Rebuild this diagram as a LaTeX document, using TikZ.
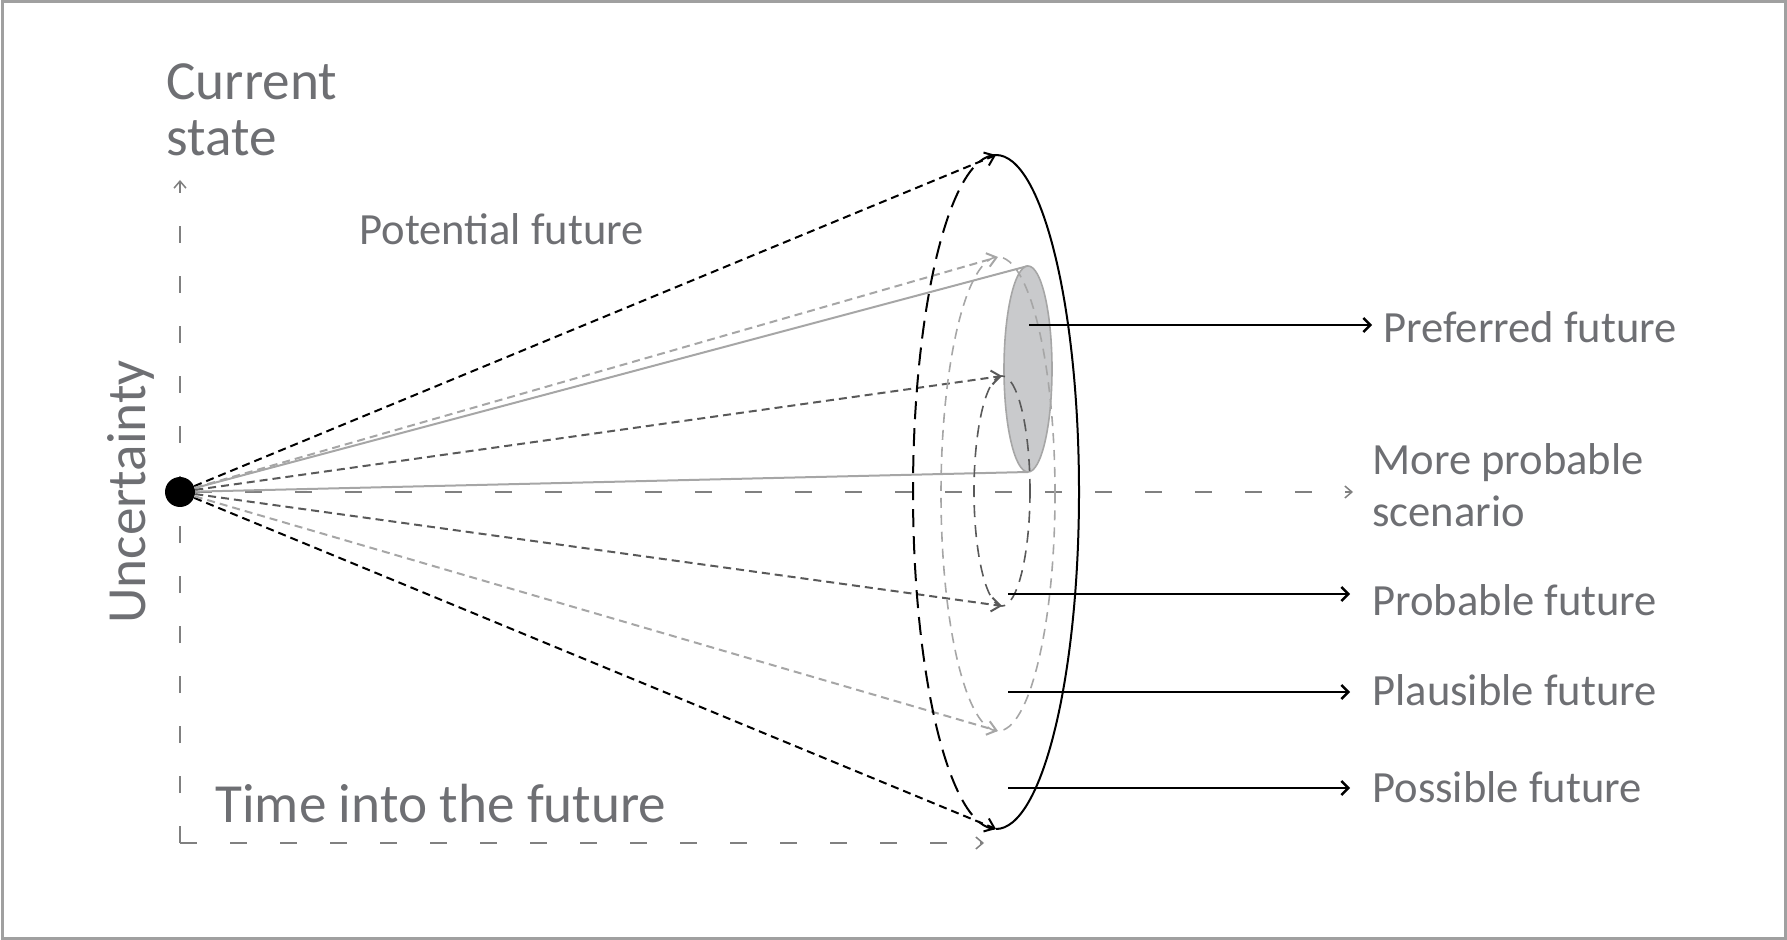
\documentclass[tikz,border=0pt]{standalone}
\usepackage{fontspec}
\setmainfont{Carlito}
\usetikzlibrary{arrows.meta}

\definecolor{txtgray}{RGB}{110,111,115}
\definecolor{axgray}{RGB}{128,128,128}
\definecolor{raygray}{RGB}{166,166,166}
\definecolor{deepgray}{RGB}{89,89,89}
\definecolor{fillgray}{RGB}{201,202,204}
\definecolor{framegray}{RGB}{160,160,160}

\begin{document}
\begin{tikzpicture}[x=0.5pt, y=-0.5pt,
  lbl/.style = {text=txtgray, inner sep=0pt, anchor=base west, align=left, font=\fontsize{22.3}{25.5}\selectfont},
  big/.style = {text=txtgray, inner sep=0pt, align=left, font=\fontsize{27.6}{28.2}\selectfont},
  ray/.style = {line width=1pt, dash pattern=on 4pt off 2.5pt, -{Straight Barb[length=4.5pt,width=7pt]}},
  axis/.style = {axgray, line width=0.75pt, dash pattern=on 8.5pt off 16.5pt, -{Straight Barb[length=3.5pt,width=6pt]}},
  pointer/.style = {line width=1.2pt, -{Straight Barb[length=3.5pt,width=7pt]}}]

\useasboundingbox (0,0) rectangle (1787,940);
\draw[framegray, line width=1.5pt] (2,2) rectangle (1785,938);

\coordinate (O) at (180,843);
\coordinate (up) at (180,180);
\coordinate (tx) at (984,843);
\coordinate (mp) at (1353,492);
\coordinate (T1) at (996,155);
\coordinate (B1) at (996,829);
\coordinate (T2) at (998,257);
\coordinate (B2) at (998,731);
\coordinate (T3) at (1002,376);
\coordinate (B3) at (1002,606);
\coordinate (T4) at (1028,266);
\coordinate (B4) at (1028,472);

\draw[axis] (O) -- (up);
\draw[axis] (O) -- (tx);

\node[circle, fill=black, inner sep=0pt, minimum size=15pt] (D) at (180,492) {};

\draw[axis] (D) -- (mp);
\draw[raygray, line width=1pt] (D) -- (T4);
\draw[raygray, line width=1pt] (D) -- (B4);
\draw[draw=raygray, fill=fillgray, line width=0.8pt] (1028,369) ellipse [x radius=12pt, y radius=51.5pt];

\draw[ray] (D) -- (T1);
\draw[ray] (D) -- (B1);
\draw[ray, raygray] (D) -- (T2);
\draw[ray, raygray] (D) -- (B2);
\draw[ray, deepgray] (D) -- (T3);
\draw[ray, deepgray] (D) -- (B3);

\draw[raygray, line width=0.8pt, dash pattern=on 5pt off 3.5pt] (998,494) ellipse [x radius=28.5pt, y radius=118.5pt];
\draw[deepgray, line width=0.8pt, dash pattern=on 6pt off 4pt] (1002,491) ellipse [x radius=14pt, y radius=57.5pt];
\draw[line width=1pt, dash pattern=on 9pt off 4.5pt] (T1) arc[start angle=90, end angle=270, x radius=41.5pt, y radius=168.5pt];
\draw[line width=1pt] (T1) arc[start angle=90, end angle=-90, x radius=41.5pt, y radius=168.5pt];

\coordinate (prefA) at (1029,325);
\coordinate (prefB) at (1372,325);
\coordinate (probA) at (1008,594);
\coordinate (probB) at (1350,594);
\coordinate (plausA) at (1008,692);
\coordinate (plausB) at (1350,692);
\coordinate (possA) at (1008,788);
\coordinate (possB) at (1350,788);

\draw[pointer] (prefA) -- (prefB);
\draw[pointer] (probA) -- (probB);
\draw[pointer] (plausA) -- (plausB);
\draw[pointer] (possA) -- (possB);

\node[big, anchor=base west] (cur) at (166,156) {Current\\state};
\node[lbl] (pot) at (359,245) {Potential future};
\node[big, rotate=90, anchor=base] (unc) at (145,492) {Uncertainty};
\node[big, anchor=base west] (time) at (215,822) {Time into the future};
\node[lbl] (pref) at (1383,343) {Preferred future};
\node[lbl] (more) at (1372,526) {More probable\\scenario};
\node[lbl] (prob) at (1372,615) {Probable future};
\node[lbl] (plaus) at (1372,705) {Plausible future};
\node[lbl] (poss) at (1372,802) {Possible future};

\end{tikzpicture}
\end{document}
